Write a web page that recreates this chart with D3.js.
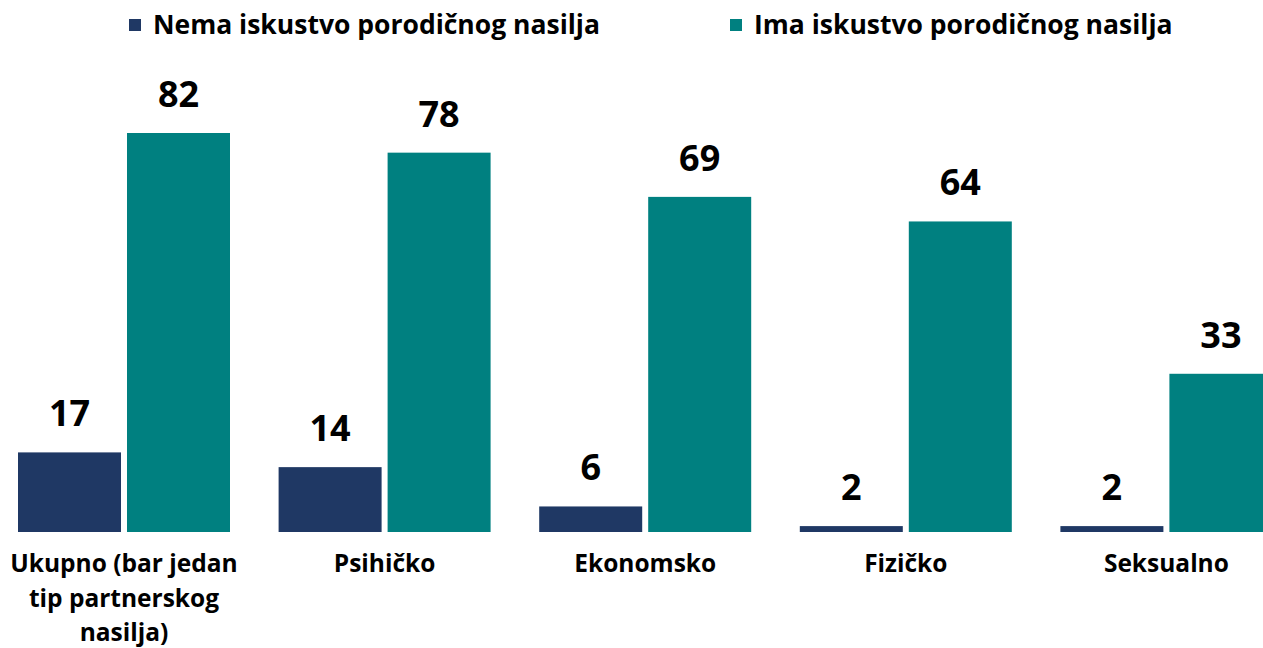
<!DOCTYPE html>
<html>
<head>
<meta charset="utf-8">
<script src="https://cdn.jsdelivr.net/npm/d3@7"></script>
<style>
  body { margin: 0; background: #fff; }
  text { font-family: "Open Sans", sans-serif; font-weight: 700; fill: #000; }
</style>
</head>
<body>
<div id="chart"></div>
<script>
const categories = ["Ukupno (bar jedan tip partnerskog nasilja)", "Psihičko", "Ekonomsko", "Fizičko", "Seksualno"];
const seriesNames = ["Nema iskustvo porodičnog nasilja", "Ima iskustvo porodičnog nasilja"];
const noExperience = [17, 14, 6, 2, 2];
const withExperience = [82, 78, 69, 64, 33];
const colors = ["#1F3864", "#008080"];

const drawChart = () => {
  const width = 1263;
  const height = 648;

  const rows = categories.map((c, i) => ({ cat: c, values: [noExperience[i], withExperience[i]] }));

  const svg = d3.select("#chart")
    .append("svg")
    .attr("width", width)
    .attr("height", height);

  const x0 = d3.scaleBand()
    .domain(categories)
    .range([18, 18 + 4 * 260.6 + 212])
    .paddingInner(0.1865)
    .paddingOuter(0);

  const x1 = d3.scaleBand()
    .domain([0, 1])
    .range([0, x0.bandwidth()])
    .paddingInner(0.055);

  // baseline sits a little under zero in the original
  const y = d3.scaleLinear()
    .domain([0.8, 82])
    .range([532, 133]);

  const groups = svg.selectAll("g.group")
    .data(rows)
    .enter()
    .append("g")
    .attr("class", "group")
    .attr("transform", d => `translate(${x0(d.cat)},0)`);

  groups.selectAll("rect")
    .data(d => d.values.map((v, i) => ({ v, i })))
    .enter()
    .append("rect")
    .attr("x", d => x1(d.i))
    .attr("y", d => y(d.v))
    .attr("width", x1.bandwidth())
    .attr("height", d => 532 - y(d.v))
    .attr("fill", d => colors[d.i]);

  groups.selectAll("text.val")
    .data(d => d.values.map((v, i) => ({ v, i })))
    .enter()
    .append("text")
    .attr("class", "val")
    .attr("x", d => x1(d.i) + x1.bandwidth() / 2)
    .attr("y", d => y(d.v) - 26)
    .attr("text-anchor", "middle")
    .style("font-size", "36px")
    .text(d => d.v);

  // category labels, wrapped to the group width
  const wrap = (s, maxW, size) => {
    const words = s.split(" ");
    const lines = [];
    let line = "";
    const probe = svg.append("text").style("font-size", size + "px");
    words.forEach(w => {
      const test = line ? line + " " + w : w;
      probe.text(test);
      if (probe.node().getComputedTextLength() > maxW && line) {
        lines.push(line);
        line = w;
      } else {
        line = test;
      }
    });
    lines.push(line);
    probe.remove();
    return lines;
  };

  groups.each(function (d) {
    const lines = wrap(d.cat, 240, 24.5);
    const t = d3.select(this).append("text")
      .attr("text-anchor", "middle")
      .attr("x", x0.bandwidth() / 2)
      .attr("y", 572)
      .style("font-size", "24.5px");
    lines.forEach((l, i) => {
      t.append("tspan")
        .attr("x", x0.bandwidth() / 2)
        .attr("dy", i === 0 ? 0 : 34.5)
        .text(l);
    });
  });

  // legend
  const legendX = [129, 730];
  const legend = svg.selectAll("g.legend")
    .data(seriesNames)
    .enter()
    .append("g")
    .attr("class", "legend")
    .attr("transform", (d, i) => `translate(${legendX[i]},0)`);

  legend.append("rect")
    .attr("x", 0)
    .attr("y", 19)
    .attr("width", 12)
    .attr("height", 12)
    .attr("fill", (d, i) => colors[i]);

  legend.append("text")
    .attr("x", 24)
    .attr("y", 34)
    .style("font-size", "26.5px")
    .text(d => d);
};

drawChart();
</script>
</body>
</html>
